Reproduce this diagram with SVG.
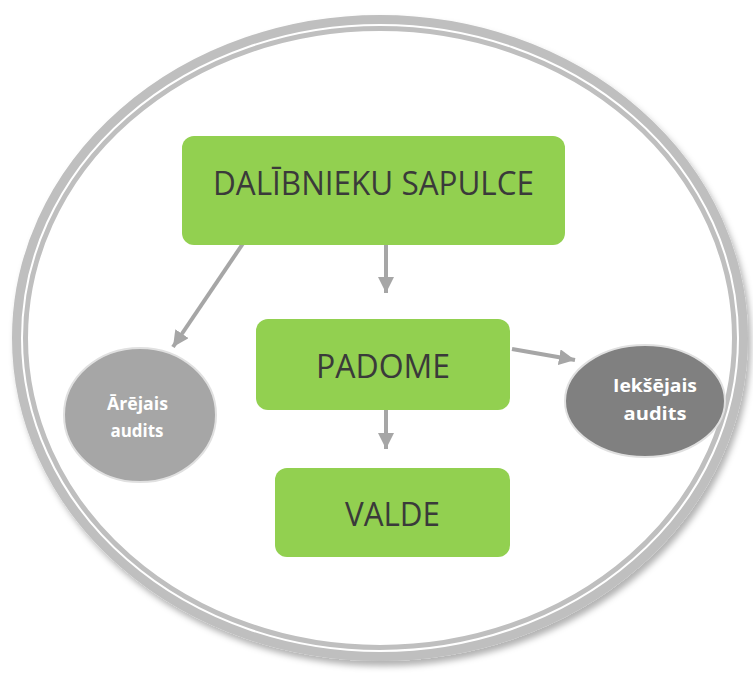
<svg xmlns="http://www.w3.org/2000/svg" width="753" height="673" viewBox="0 0 753 673">
<style>
.box{fill:#92d050}
.bt{font-family:"Open Sans","Liberation Sans",sans-serif;fill:#3a3a3a;text-anchor:middle;font-size:32px}
.ct{font-family:"Open Sans","Liberation Sans",sans-serif;font-weight:bold;fill:#ffffff;text-anchor:middle;font-size:17px}
.con{stroke:#a6a6a6;stroke-width:4;fill:none}
</style>
<defs>
<marker id="ah" viewBox="0 0 10 10" refX="10" refY="5" markerWidth="4" markerHeight="4" markerUnits="strokeWidth" orient="auto">
<path d="M0,0 L10,5 L0,10 z" fill="#a6a6a6"/>
</marker>
<filter id="sh" x="-10%" y="-10%" width="120%" height="125%">
<feDropShadow dx="3" dy="5" stdDeviation="3" flood-color="#000" flood-opacity="0.3"/>
</filter>
</defs>
<g id="frame">
<ellipse cx="380" cy="338" rx="360" ry="315" fill="#ffffff" stroke="#bfbfbf" stroke-width="16" filter="url(#sh)"/>
<ellipse cx="380" cy="338" rx="358" ry="313" fill="none" stroke="#ffffff" stroke-width="2"/>
</g>
<g id="connectors">
<line class="con" x1="386" y1="242" x2="386" y2="293" marker-end="url(#ah)"/>
<line class="con" x1="244" y1="242" x2="173" y2="347" marker-end="url(#ah)"/>
<line class="con" x1="512" y1="349" x2="575" y2="360" marker-end="url(#ah)"/>
<line class="con" x1="386" y1="398" x2="386" y2="449" marker-end="url(#ah)"/>
</g>
<g id="dalibnieku-sapulce">
<rect class="box" x="182" y="136" width="383" height="109" rx="12"/>
<text class="bt" x="373.5" y="195" textLength="321" lengthAdjust="spacingAndGlyphs">DALĪBNIEKU SAPULCE</text>
</g>
<g id="padome">
<rect class="box" x="256" y="319" width="254" height="91" rx="12"/>
<text class="bt" x="383" y="378" textLength="134" lengthAdjust="spacingAndGlyphs">PADOME</text>
</g>
<g id="valde">
<rect class="box" x="275" y="468" width="235" height="89" rx="12"/>
<text class="bt" x="392.5" y="526" textLength="95" lengthAdjust="spacingAndGlyphs">VALDE</text>
</g>
<g id="arejais-audits">
<ellipse cx="140" cy="415" rx="76" ry="67" fill="#a6a6a6" stroke="#e0e0e0" stroke-width="2"/>
<text class="ct" x="137.5" y="410" textLength="61" lengthAdjust="spacingAndGlyphs">Ārējais</text>
<text class="ct" x="137" y="437" textLength="53" lengthAdjust="spacingAndGlyphs">audits</text>
</g>
<g id="ieksejais-audits">
<ellipse cx="645" cy="401" rx="80" ry="56" fill="#808080" stroke="#e0e0e0" stroke-width="2"/>
<text class="ct" x="655" y="392" textLength="84" lengthAdjust="spacingAndGlyphs">Iekšējais</text>
<text class="ct" x="655" y="420" textLength="63" lengthAdjust="spacingAndGlyphs">audits</text>
</g>
</svg>
